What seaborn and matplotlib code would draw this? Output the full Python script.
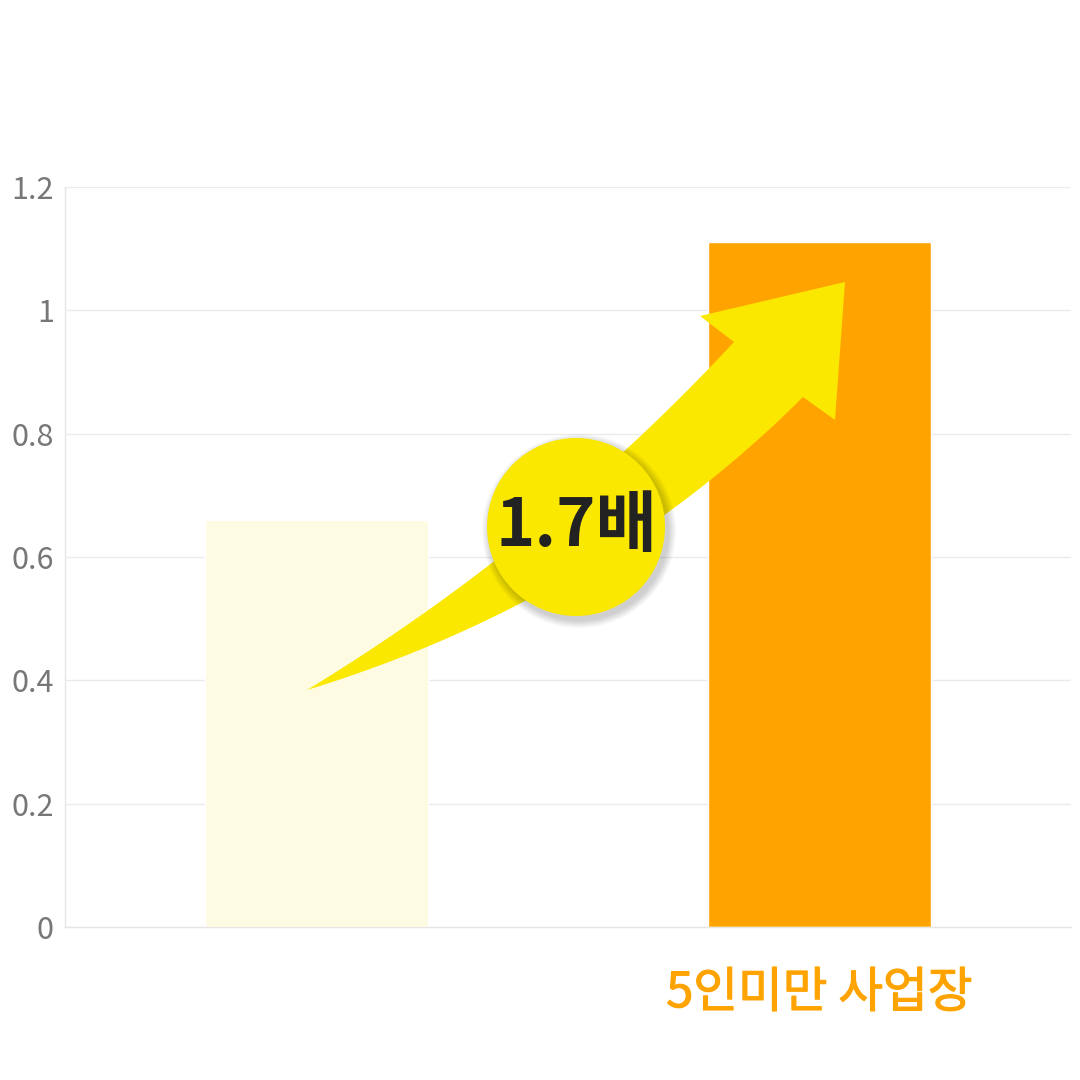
import numpy as np
import pandas as pd
import matplotlib
matplotlib.use("Agg")
import matplotlib.pyplot as plt
import matplotlib.patheffects as pe
import seaborn as sns
from matplotlib.patches import Polygon, Circle

# data
categories = ["", "5인미만 사업장"]
values = [0.66, 1.11]
bar_colors = ["#FEFBE3", "#FFA300"]
yticks = [0, 0.2, 0.4, 0.6, 0.8, 1.0, 1.2]
ytick_labels = ["0", "0.2", "0.4", "0.6", "0.8", "1", "1.2"]
ratio_label = "1.7배"

df = pd.DataFrame({"category": categories, "value": values})

sns.set_theme(style="white")
plt.rcParams["font.family"] = ["Noto Sans CJK KR", "DejaVu Sans"]

fig = plt.figure(figsize=(10.8, 10.8), dpi=100)
ax = fig.add_axes([65 / 1080, 1 - 927 / 1080, 1006 / 1080, 740 / 1080])

sns.barplot(data=df, x="category", y="value", hue="category",
            palette=bar_colors, width=0.445, legend=False, ax=ax,
            saturation=1, zorder=2)

ax.set_xlim(-0.5, 1.5)
ax.set_ylim(0, 1.2)
ax.set_yticks(yticks)
ax.set_yticklabels(ytick_labels)
ax.set_xlabel("")
ax.set_ylabel("")
ax.grid(axis="y", color="#EBEBEB", linewidth=1, zorder=0)
ax.set_axisbelow(True)
for side in ["top", "right"]:
    ax.spines[side].set_visible(False)
for side in ["left", "bottom"]:
    ax.spines[side].set_color("#E6E6E6")
    ax.spines[side].set_linewidth(1)
ax.tick_params(axis="y", length=0, pad=8, labelsize=22, labelcolor="#777777")
ax.tick_params(axis="x", length=0, pad=30, labelsize=35)
for lbl in ax.get_xticklabels():
    lbl.set_color("#FFA300")
    lbl.set_path_effects([pe.withStroke(linewidth=0.8, foreground="#FFA300")])


# decorative arrow, in figure pixel space (y from top)
def px(x, y):
    return (x / 1080, 1 - y / 1080)


def bez(p0, c, p2, n=60):
    t = np.linspace(0, 1, n)[:, None]
    p0, c, p2 = np.array(p0), np.array(c), np.array(p2)
    return (1 - t) ** 2 * p0 + 2 * (1 - t) * t * c + t ** 2 * p2


tail = (307, 690)
upper = bez(tail, (545, 545), (734, 342))
lower = bez(tail, (600, 600), (803, 397))
head = [(700, 316), (845, 282), (835, 420)]
pts = list(upper) + head + list(lower[::-1])
pts = [px(x, y) for x, y in pts]
arrow = Polygon(pts, closed=True, facecolor="#FAE800", edgecolor="none",
                transform=fig.transFigure, zorder=5)
fig.patches.append(arrow)

# circle badge with soft shadow
cx, cy, r = 576, 527, 89
for i in range(8):
    sh = Circle(px(cx + 3, cy + 4), (r + 8 - i) / 1080, facecolor="#000000",
                alpha=0.025, edgecolor="none", transform=fig.transFigure, zorder=6)
    fig.patches.append(sh)
badge = Circle(px(cx, cy), r / 1080, facecolor="#FAE800", edgecolor="none",
               transform=fig.transFigure, zorder=7)
fig.patches.append(badge)
fig.text(*px(cx, cy), ratio_label, ha="center", va="center", fontsize=48,
         fontweight="bold", color="#222222", zorder=8)

fig.savefig("out.png", dpi=100, facecolor="white")
